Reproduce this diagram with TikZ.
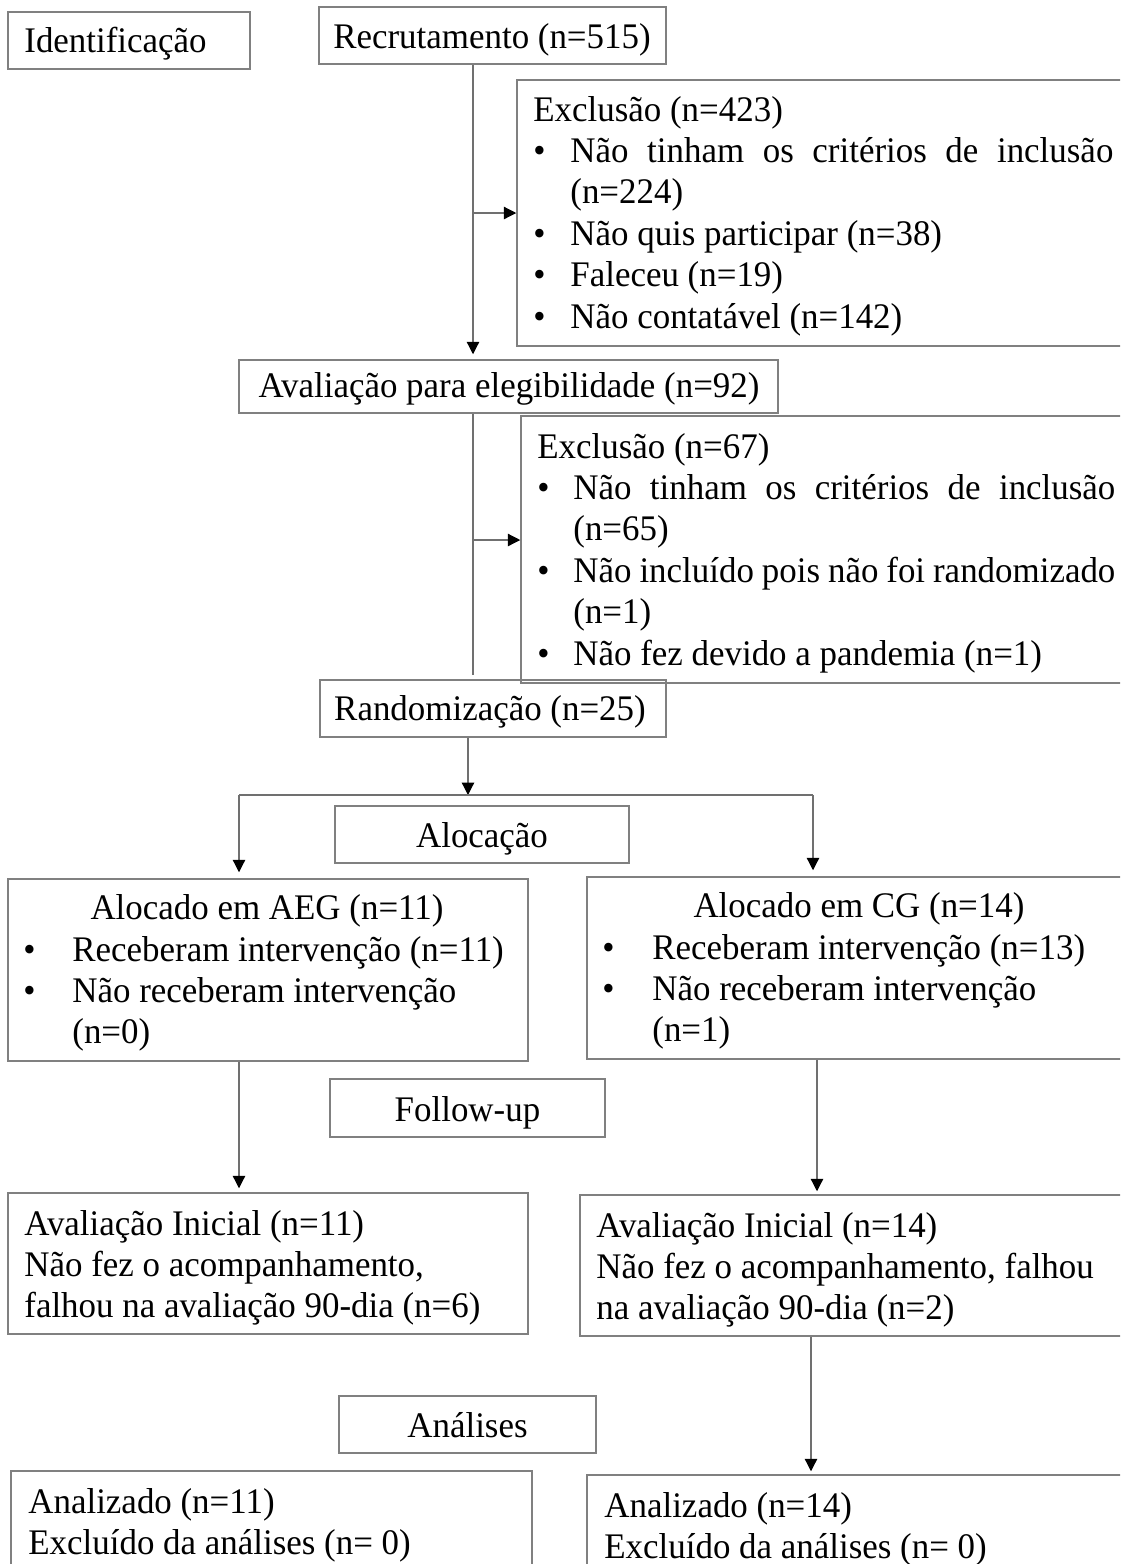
\documentclass[tikz,border=0pt]{standalone}
\usepackage{fontspec}
\setmainfont{Liberation Serif}[FakeStretch=0.97]
\usetikzlibrary{arrows.meta,fit,calc}
\definecolor{bordergray}{HTML}{808080}
\definecolor{linegray}{HTML}{707070}
\newcommand\dfont{\fontsize{18}{20.7}\selectfont}
\newcommand\bitem[2]{\makebox[#1][l]{\textbullet}#2}
\newcommand\jline[2]{\hbox to #1{#2}}
\begin{document}
\begin{tikzpicture}[x=0.5pt,y=-0.5pt,
  box/.style={draw=bordergray, line width=0.75pt, inner sep=0pt},
  txt/.style={inner sep=0pt, font=\dfont, anchor=base west},
  ctxt/.style={inner sep=0pt, font=\dfont, anchor=base},
  mtxt/.style={inner sep=0pt, font=\dfont, anchor=base west, text width=290pt, align=left,
    execute at begin node={\spaceskip=0pt\xspaceskip=0pt}},
  conn/.style={draw=linegray, line width=0.6pt},
  arr/.style={conn, -{Triangle[length=6.2pt,width=6.2pt,color=black,fill=black]}}]
\useasboundingbox (0,0) rectangle (1120,1564);
\clip (0,0) rectangle (1120,1564);

% boxes
\node[box, fit={(8,12) (250,69)}] (idbox) {};
\node[box, fit={(319,7) (666,64)}] (recr) {};
\node[box, fit={(517,80) (1140,346)}] (excla) {};
\node[box, fit={(239,360) (778,413)}] (aval) {};
\node[box, fit={(521,416) (1140,683)}] (exclb) {};
\node[box, fit={(320,680) (666,737)}] (rand) {};
\node[box, fit={(335,806) (629,863)}] (aloc) {};
\node[box, fit={(8,879) (528,1061)}] (aeg) {};
\node[box, fit={(587,877) (1140,1059)}] (cg) {};
\node[box, fit={(330,1079) (605,1137)}] (foll) {};
\node[box, fit={(8,1193) (528,1334)}] (avl) {};
\node[box, fit={(580,1195) (1140,1336)}] (avr) {};
\node[box, fit={(339,1396) (596,1453)}] (anal) {};
\node[box, fit={(11,1471) (532,1590)}] (anl) {};
\node[box, fit={(587,1475) (1140,1590)}] (anr) {};

% texts
\node[txt] (tid) at (24,52) {Identificação};
\node[ctxt] (trecr) at (492,48) {Recrutamento (n=515)};
\node[mtxt] (texcla) at (533,121) {Exclusão (n=423)\\
  \bitem{18.5pt}{\jline{271.5pt}{Não\hfill tinham\hfill os\hfill critérios\hfill de\hfill inclusão}}\\
  \hspace*{18.5pt}(n=224)\\
  \bitem{18.5pt}{Não quis participar (n=38)}\\
  \bitem{18.5pt}{Faleceu (n=19)}\\
  \bitem{18.5pt}{Não contatável (n=142)}};
\node[ctxt] (taval) at (509,397) {Avaliação para elegibilidade (n=92)};
\node[mtxt] (texclb) at (537,458) {Exclusão (n=67)\\
  \bitem{18pt}{\jline{271pt}{Não\hfill tinham\hfill os\hfill critérios\hfill de\hfill inclusão}}\\
  \hspace*{18pt}(n=65)\\
  \bitem{18pt}{\jline{271pt}{Não\hfill incluído\hfill pois\hfill não\hfill foi\hfill randomizado}}\\
  \hspace*{18pt}(n=1)\\
  \bitem{18pt}{Não fez devido a pandemia (n=1)}};
\node[ctxt] (trand) at (490,720) {Randomização (n=25)};
\node[ctxt] (taloc) at (482,847) {Alocação};
\node[ctxt] (taegt) at (267,919) {Alocado em AEG (n=11)};
\node[mtxt] (taeg) at (23,961) {\bitem{24.5pt}{Receberam intervenção (n=11)}\\
  \bitem{24.5pt}{Não receberam intervenção}\\
  \hspace*{24.5pt}(n=0)};
\node[ctxt] (tcgt) at (859,917) {Alocado em CG (n=14)};
\node[mtxt] (tcg) at (602,959) {\bitem{25pt}{Receberam intervenção (n=13)}\\
  \bitem{25pt}{Não receberam intervenção}\\
  \hspace*{25pt}(n=1)};
\node[ctxt] (tfoll) at (467.5,1121) {Follow-up};
\node[mtxt] (tavl) at (24,1235) {Avaliação Inicial (n=11)\\
  Não fez o acompanhamento,\\
  falhou na avaliação 90-dia (n=6)};
\node[mtxt] (tavr) at (596,1237) {Avaliação Inicial (n=14)\\
  Não fez o acompanhamento, falhou\\
  na avaliação 90-dia (n=2)};
\node[ctxt] (tanal) at (467.5,1437) {Análises};
\node[mtxt] (tanl) at (28,1513) {Analizado (n=11)\\
  Excluído da análises (n= 0)};
\node[mtxt] (tanr) at (604,1517) {Analizado (n=14)\\
  Excluído da análises (n= 0)};

% connector coordinates
\coordinate (xa) at (473,0);
\coordinate (ja) at (473,540);
\coordinate (xb) at (468,0);
\coordinate (split) at (468,795);
\coordinate (sl) at (239,795);
\coordinate (sr) at (813,795);
\coordinate (xl) at (239,0);
\coordinate (xr) at (817,0);
\coordinate (xr3) at (811,0);

% connectors
\draw[arr, shorten >=2.5pt] (recr.south -| xa) -- (aval.north -| xa);
\draw[arr] (excla.west -| xa) -- (excla.west);
\draw[conn, shorten >=2pt] (aval.south -| xa) -- (rand.north -| xa);
\draw[arr] (ja) -- (ja -| exclb.west);
\draw[arr] (rand.south -| xb) -- (split);
\draw[conn] (sl) -- (sr);
\draw[arr, shorten >=3pt] (sl) -- (aeg.north -| sl);
\draw[arr, shorten >=3pt] (sr) -- (cg.north -| sr);
\draw[arr, shorten >=2pt] (aeg.south -| xl) -- (avl.north -| xl);
\draw[arr, shorten >=1.5pt] (cg.south -| xr) -- (avr.north -| xr);
\draw[arr, shorten >=1.5pt] (avr.south -| xr3) -- (anr.north -| xr3);
\end{tikzpicture}
\end{document}
